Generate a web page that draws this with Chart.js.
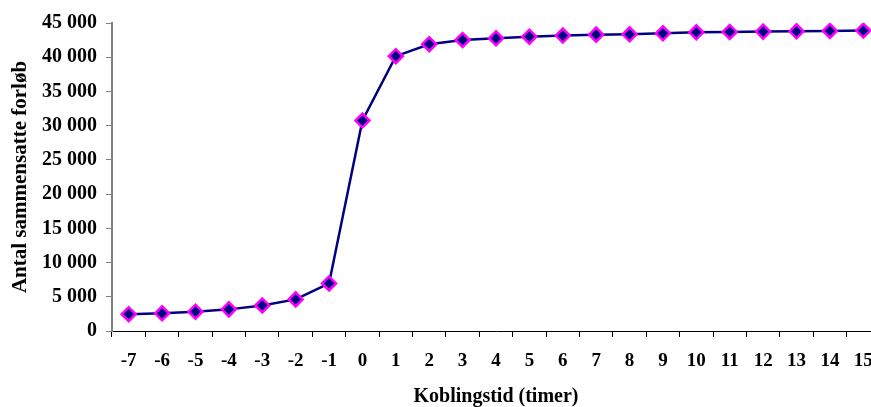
<!DOCTYPE html>
<html>
<head>
<meta charset="utf-8">
<script src="https://cdn.jsdelivr.net/npm/chart.js@4"></script>
<style>
  html, body { margin: 0; padding: 0; background: #fff; overflow: hidden; }
  #wrap { width: 890px; height: 407px; }
</style>
</head>
<body>
<div id="wrap"><canvas id="chart" width="890" height="407"></canvas></div>
<script>
// hours relative to coupling
const hours = ['-7','-6','-5','-4','-3','-2','-1','0','1','2','3','4','5','6','7','8','9','10','11','12','13','14','15'];
// number of combined courses
const counts = [2450, 2580, 2820, 3160, 3740, 4620, 6950, 30750, 40150, 41900, 42520, 42770, 43000, 43160,
                43300, 43350, 43500, 43640, 43690, 43740, 43790, 43840, 43890];
const yTicks = [0, 5000, 10000, 15000, 20000, 25000, 30000, 35000, 40000, 45000];

const serif = "'Liberation Serif', 'Times New Roman', serif";

function fmt(v) {
    return String(v).replace(/\B(?=(\d{3})+(?!\d))/g, ' ');
}

const ctx = document.getElementById('chart').getContext('2d');
new Chart(ctx, {
    type: 'line',
    data: {
        labels: hours,
        datasets: [{
            data: counts,
            borderColor: '#000080',
            borderWidth: 2.5,
            tension: 0,
            pointStyle: 'rectRot',
            pointRadius: 7,
            pointBackgroundColor: '#000080',
            pointBorderColor: '#ff00ff',
            pointBorderWidth: 2.5
        }]
    },
    options: {
        responsive: false,
        animation: false,
        layout: { padding: { top: 23, right: 10, left: 0, bottom: 0 } },
        plugins: { legend: { display: false }, tooltip: { enabled: false } },
        scales: {
            x: {
                type: 'category',
                offset: true,
                grid: { offset: true, drawOnChartArea: false, tickLength: 6, color: '#000' },
                border: { color: '#000', width: 1 },
                ticks: { color: '#000', font: { family: serif, size: 19, weight: 'bold' }, padding: 13, maxRotation: 0, autoSkip: false },
                title: { display: true, text: 'Koblingstid (timer)', color: '#000', font: { family: serif, size: 20, weight: 'bold' }, padding: { top: 10, bottom: -2 } },
                afterFit: s => { s.height = 76; }
            },
            y: {
                min: 0,
                max: 45000,
                afterBuildTicks: s => { s.ticks = yTicks.map(v => ({ value: v })); },
                grid: { drawOnChartArea: false, tickLength: 6, color: '#808080' },
                border: { color: '#808080', width: 2 },
                ticks: { color: '#000', font: { family: serif, size: 20, weight: 'bold' }, padding: 9, callback: v => fmt(v) },
                title: { display: true, text: 'Antal sammensatte forløb', color: '#000', font: { family: serif, size: 21, weight: 'bold' }, padding: { top: 8, bottom: 4 } },
                afterFit: s => { s.width = 112; }
            }
        }
    }
});
</script>
</body>
</html>
